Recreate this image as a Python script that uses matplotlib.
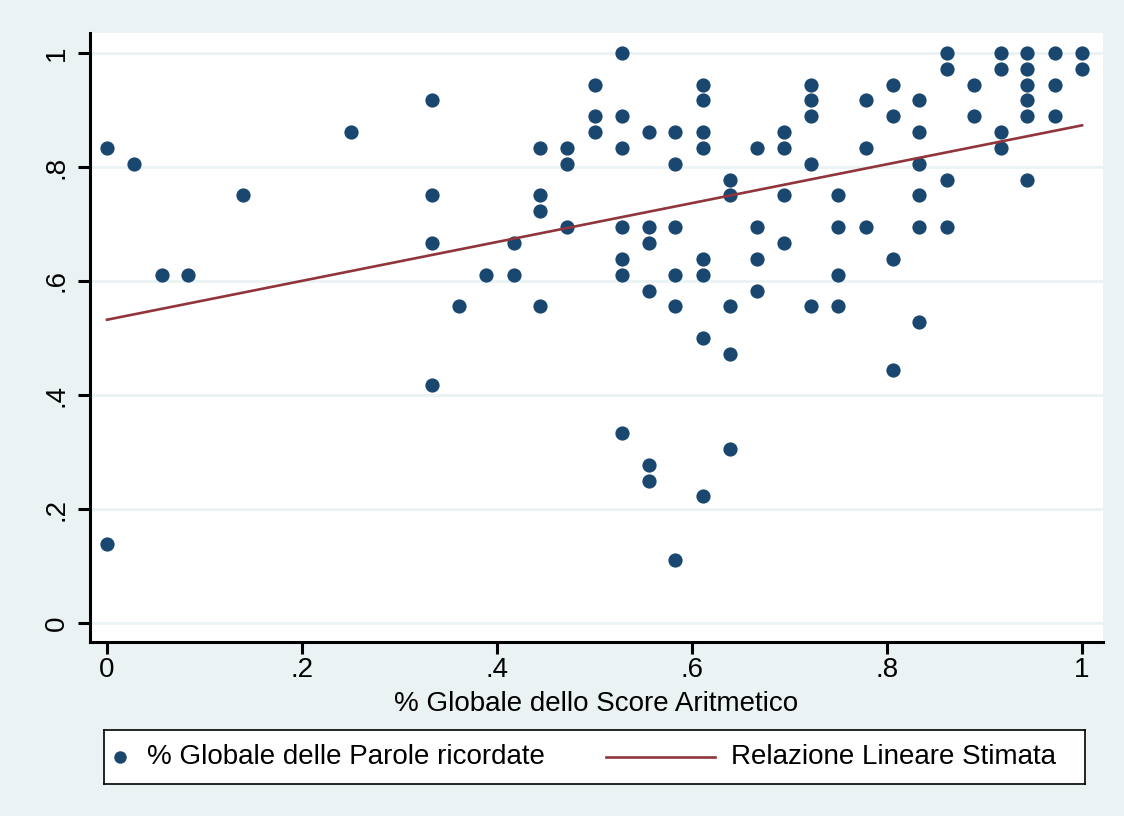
import matplotlib
matplotlib.use("Agg")
import matplotlib.pyplot as plt
import numpy as np

plt.rcParams['font.family'] = ['Liberation Sans', 'DejaVu Sans']

# ---- data ----
x_cols = [0.0, 0.028, 0.056, 0.083, 0.139, 0.25, 0.333, 0.361, 0.389, 0.417,
          0.444, 0.472, 0.5, 0.528, 0.556, 0.583, 0.611, 0.639, 0.667, 0.694,
          0.722, 0.75, 0.778, 0.806, 0.833, 0.861, 0.889, 0.917, 0.944, 0.972, 1.0]
y_by_col = [
    [0.833, 0.139],
    [0.806],
    [0.611],
    [0.611],
    [0.75],
    [0.861],
    [0.917, 0.75, 0.667, 0.417],
    [0.556],
    [0.611],
    [0.667, 0.611],
    [0.833, 0.75, 0.722, 0.556],
    [0.833, 0.806, 0.694],
    [0.944, 0.889, 0.861],
    [1.0, 0.889, 0.833, 0.694, 0.639, 0.611, 0.333],
    [0.861, 0.694, 0.667, 0.583, 0.278, 0.25],
    [0.861, 0.806, 0.694, 0.611, 0.556, 0.111],
    [0.944, 0.917, 0.861, 0.833, 0.639, 0.611, 0.5, 0.222],
    [0.778, 0.75, 0.556, 0.472, 0.306],
    [0.833, 0.694, 0.639, 0.583],
    [0.861, 0.833, 0.75, 0.667],
    [0.944, 0.917, 0.889, 0.806, 0.556],
    [0.75, 0.694, 0.611, 0.556],
    [0.917, 0.833, 0.694],
    [0.944, 0.889, 0.639, 0.444],
    [0.917, 0.861, 0.806, 0.75, 0.694, 0.528],
    [1.0, 0.972, 0.778, 0.694],
    [0.944, 0.889],
    [1.0, 0.972, 0.861, 0.833],
    [1.0, 0.972, 0.944, 0.917, 0.889, 0.778],
    [1.0, 0.944, 0.889],
    [1.0, 0.972],
]
fit_x = [0.0, 1.0]
fit_y = [0.532, 0.873]

x_ticks = [0, 0.2, 0.4, 0.6, 0.8, 1.0]
x_tick_labels = ['0', '.2', '.4', '.6', '.8', '1']
y_ticks = [0, 0.2, 0.4, 0.6, 0.8, 1.0]
y_tick_labels = ['0', '.2', '.4', '.6', '.8', '1']

x_label = '% Globale dello Score Aritmetico'
scatter_label = '% Globale delle Parole ricordate'
line_label = 'Relazione Lineare Stimata'

xs = []
ys = []
for xv, col in zip(x_cols, y_by_col):
    for yv in col:
        xs.append(xv)
        ys.append(yv)

# ---- styling ----
BG = '#eaf2f3'
NAVY = '#1a476f'
MAROON = '#90353b'
W, H = 1124, 816

fig = plt.figure(figsize=(W / 100, H / 100), dpi=100)
fig.patch.set_facecolor(BG)

ax = fig.add_axes([90 / W, 1 - 642 / H, (1103 - 90) / W, (642 - 33) / H])
ax.set_facecolor('white')
ax.set_xlim(-0.0174, 1.0215)
ax.set_ylim(-0.0333, 1.035)

ax.scatter(xs, ys, s=105, c=NAVY, marker='o', linewidths=0, zorder=3)
ax.plot(fit_x, fit_y, color=MAROON, lw=1.9, zorder=4)

ax.set_axisbelow(True)
ax.yaxis.grid(True, color=BG, lw=2.0)
ax.xaxis.grid(False)

for s in ['top', 'right']:
    ax.spines[s].set_visible(False)
for s in ['left', 'bottom']:
    ax.spines[s].set_linewidth(2.2)
    ax.spines[s].set_color('black')

ax.set_xticks(x_ticks)
ax.set_xticklabels(x_tick_labels)
ax.set_yticks(y_ticks)
ax.set_yticklabels(y_tick_labels, rotation=90, va='center')
ax.tick_params(axis='both', length=8.5, width=2.2, direction='out',
               labelsize=20, color='black')
ax.tick_params(axis='x', pad=2)
ax.tick_params(axis='y', pad=6)
ax.set_xlabel(x_label, fontsize=20, labelpad=6)

# ---- legend box ----
lx0, ly0, lx1, ly1 = 104, 730, 1085, 784
lax = fig.add_axes([lx0 / W, 1 - ly1 / H, (lx1 - lx0) / W, (ly1 - ly0) / H])
lax.set_xlim(0, lx1 - lx0)
lax.set_ylim(0, ly1 - ly0)
lax.set_xticks([])
lax.set_yticks([])
lax.set_facecolor('white')
for s in lax.spines.values():
    s.set_linewidth(1.2)
    s.set_color('black')
mid = (ly1 - ly0) / 2
lax.plot([16], [mid], 'o', ms=9, color=NAVY, mew=0)
lax.text(43, mid, scatter_label, va='center', ha='left', fontsize=20)
lax.plot([502, 611], [mid, mid], color=MAROON, lw=1.9)
lax.text(627, mid, line_label, va='center', ha='left', fontsize=20)

fig.savefig('out.png', dpi=100, facecolor=BG)
